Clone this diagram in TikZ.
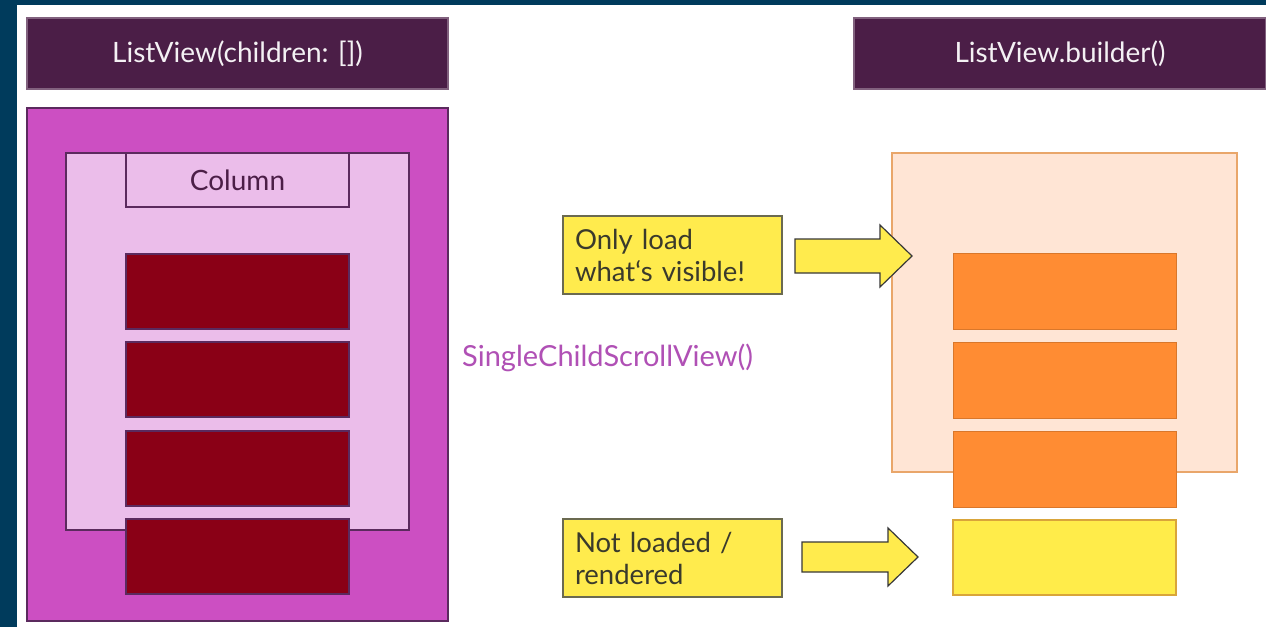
\documentclass[tikz,border=0pt]{standalone}
\usepackage{fontspec}
\setmainfont{Lato}
\definecolor{navy}{HTML}{003B5C}
\definecolor{plum}{HTML}{4B1E47}
\definecolor{magent}{HTML}{CC4FC2}
\definecolor{pinkish}{HTML}{EBBDEA}
\definecolor{wine}{HTML}{8A0016}
\definecolor{edgepurple}{HTML}{5B2A5E}
\definecolor{peach}{HTML}{FFE5D5}
\definecolor{peachedge}{HTML}{E9A66A}
\definecolor{orng}{HTML}{FF8C33}
\definecolor{yel}{HTML}{FFEC4A}
\definecolor{yeledge}{HTML}{D9A53A}
\definecolor{notefill}{HTML}{FFEB4D}
\definecolor{noteedge}{HTML}{6B6A50}
\definecolor{notetext}{HTML}{3A3A2C}
\definecolor{scv}{HTML}{B050B5}
\tikzset{
  box/.style={anchor=north west, inner sep=0pt, outer sep=0pt, line width=1.2pt},
  labelfont/.style={font=\fontsize{28}{32}\selectfont},
  header/.style={box, fill=plum, draw=plum!70!white, text=white!94!plum, labelfont},
  note/.style={box, fill=notefill, draw=noteedge, text=notetext, align=left,
    font=\fontsize{27.5}{32}\selectfont, inner xsep=12pt, text width=195pt,
    minimum width=219pt, minimum height=78pt},
  blockarrow/.style={draw=black!78, fill=notefill, line width=1.2pt, line join=miter}
}
\begin{document}
\begin{tikzpicture}[x=1pt,y=-1pt]
  % frame
  \fill[navy] (0,0) rectangle (1266,627);
  \fill[white] (17,5) rectangle (1266,627);
  \useasboundingbox (0,0) rectangle (1266,627);

  % left column: ListView(children: [])
  \node[header, minimum width=421pt, minimum height=71pt] (lvtitle) at (27,18) {ListView(children: [])};
  \node[box, fill=magent, draw=edgepurple, minimum width=421pt, minimum height=513pt] (lvbox) at (27,108) {};
  \node[box, fill=pinkish, draw=edgepurple, minimum width=343pt, minimum height=377pt] (viewport) at (66,153) {};
  \node[box, fill=pinkish, draw=edgepurple, minimum width=223pt, minimum height=54pt,
        text=plum, labelfont] (column) at (126,153) {Column};
  \foreach \y [count=\i] in {254,342,431,519}
    \node[box, fill=wine, draw=edgepurple, minimum width=223pt, minimum height=75pt] (item\i) at (126,\y) {};

  % middle label
  \node[anchor=west, inner sep=0pt, text=scv, font=\fontsize{29}{32}\selectfont] (scvlabel) at (462,358) {SingleChildScrollView()};

  % right column: ListView.builder()
  \node[header, minimum width=412pt, minimum height=71pt] (lbtitle) at (854,18) {ListView.builder()};
  \node[box, fill=peach, draw=peachedge, minimum width=345pt, minimum height=319pt] (lbview) at (892,153) {};
  \foreach \y [count=\i] in {253,342,431}
    \node[box, fill=orng, draw=orng!85!black, line width=0.4pt, minimum width=223pt, minimum height=76pt] (built\i) at (953,\y) {};
  \node[box, fill=yel, draw=yeledge, minimum width=223pt, minimum height=75pt] (pending) at (953,520) {};

  % notes
  \node[note] (visible) at (563,216) {Only load\\what‘s visible!};
  \node[note] (hidden) at (563,519) {Not loaded /\\rendered};

  % block arrows, drawn from the middle of their tail
  \coordinate (tailtop) at (795,256);
  \coordinate (tailbottom) at (802,557);
  \draw[blockarrow] ([yshift=17pt]tailtop) -- (880,239) -- (880,225) -- (912,256)
    -- (880,287) -- (880,273) -- ([yshift=-17pt]tailtop) -- cycle;
  \draw[blockarrow] ([yshift=15pt]tailbottom) -- (888,542) -- (888,528) -- (918,557)
    -- (888,586) -- (888,572) -- ([yshift=-15pt]tailbottom) -- cycle;
\end{tikzpicture}
\end{document}
